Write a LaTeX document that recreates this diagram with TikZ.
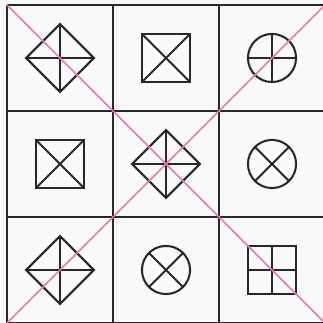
\documentclass[tikz,border=0pt]{standalone}
\usepackage{tikz}
\usetikzlibrary{calc}
\definecolor{linegray}{RGB}{40,40,40}
\definecolor{diagpink}{RGB}{232,125,168}
\tikzset{
    gridline/.style={draw=linegray, line width=0.75pt},
    figline/.style={draw=linegray, line width=0.55pt},
    diagline/.style={draw=diagpink, line width=0.45pt},
}
\newcommand{\diamondplus}[1]{
    \draw[figline] ($(#1)+(-0.32,0)$) -- ($(#1)+(0,0.32)$) -- ($(#1)+(0.32,0)$) -- ($(#1)+(0,-0.32)$) -- cycle;
    \draw[figline] ($(#1)+(-0.32,0)$) -- ($(#1)+(0.32,0)$);
    \draw[figline] ($(#1)+(0,-0.32)$) -- ($(#1)+(0,0.32)$);
}
\newcommand{\squarecross}[1]{
    \draw[figline] ($(#1)+(-0.227,-0.227)$) rectangle ($(#1)+(0.227,0.227)$);
    \draw[figline] ($(#1)+(-0.227,-0.227)$) -- ($(#1)+(0.227,0.227)$);
    \draw[figline] ($(#1)+(-0.227,0.227)$) -- ($(#1)+(0.227,-0.227)$);
}
\newcommand{\squareplus}[1]{
    \draw[figline] ($(#1)+(-0.227,-0.227)$) rectangle ($(#1)+(0.227,0.227)$);
    \draw[figline] ($(#1)+(-0.227,0)$) -- ($(#1)+(0.227,0)$);
    \draw[figline] ($(#1)+(0,-0.227)$) -- ($(#1)+(0,0.227)$);
}
\newcommand{\circleplus}[1]{
    \draw[figline] (#1) circle (0.227);
    \draw[figline] ($(#1)+(-0.227,0)$) -- ($(#1)+(0.227,0)$);
    \draw[figline] ($(#1)+(0,-0.227)$) -- ($(#1)+(0,0.227)$);
}
\newcommand{\circlecross}[1]{
    \draw[figline] (#1) circle (0.227);
    \draw[figline] ($(#1)+(-135:0.227)$) -- ($(#1)+(45:0.227)$);
    \draw[figline] ($(#1)+(135:0.227)$) -- ($(#1)+(-45:0.227)$);
}

\begin{document}
\begin{tikzpicture}
    \fill[white!98!black] (-0.066,0) rectangle (2.981,3.047);
    \useasboundingbox (-0.066,0) rectangle (2.981,3.047);
    \clip (-0.066,0) rectangle (2.981,3.047);

    % Cell centres
    \foreach \r in {1,2,3} {
        \foreach \c in {1,2,3} {
            \coordinate (c\r\c) at (\c-0.5, 3.5-\r);
        }
    }

    % Draw grid
    \foreach \x in {0,...,3} {
        \draw[gridline] (\x, 0) -- (\x, 3);
    }
    \foreach \y in {0,...,3} {
        \draw[gridline] (0, \y) -- (3, \y);
    }

    % Draw figures
    \diamondplus{c11}
    \squarecross{c12}
    \circleplus{c13}
    \squarecross{c21}
    \diamondplus{c22}
    \circlecross{c23}
    \diamondplus{c31}
    \circlecross{c32}
    \squareplus{c33}

    % Draw diagonals
    \coordinate (tl) at (0, 3);
    \coordinate (br) at (3, 0);
    \coordinate (bl) at (0, 0);
    \coordinate (tr) at (3, 3);
    \draw[diagline] (tl) -- (br);
    \draw[diagline] (bl) -- (tr);
\end{tikzpicture}
\end{document}
